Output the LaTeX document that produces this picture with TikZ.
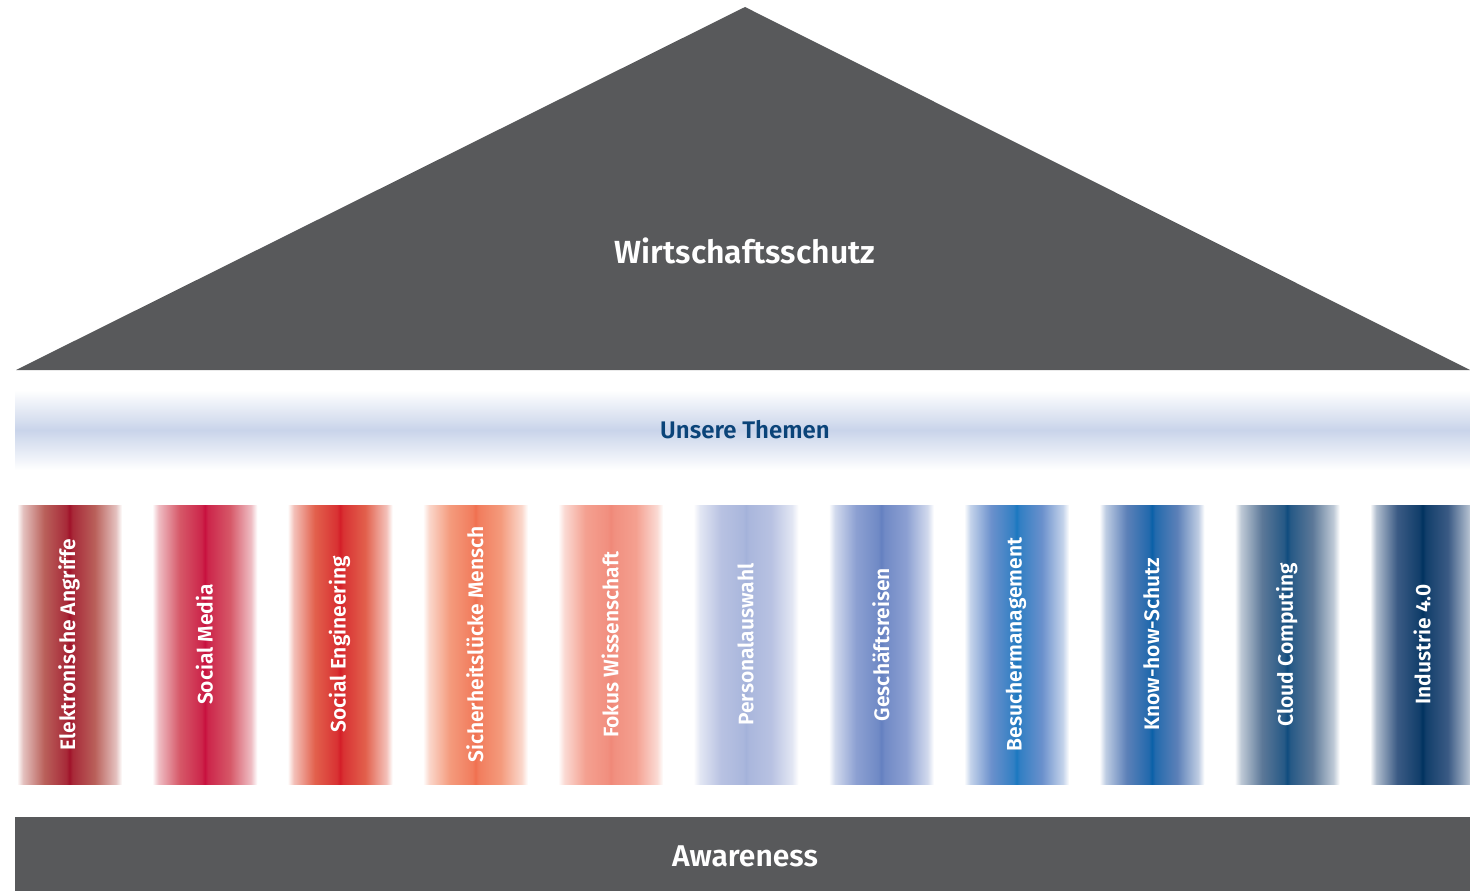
\documentclass[tikz,border=0pt]{standalone}
\usepackage{fontspec}
\setmainfont{Fira Sans}[BoldFont={Fira Sans SemiBold}]
\definecolor{roofgray}{HTML}{58595B}
\definecolor{themeblue}{HTML}{0B4479}
\definecolor{bandblue}{HTML}{C9D4EA}
\definecolor{pc}{HTML}{000000}
\definecolor{pm}{HTML}{808080}
% pillar shading: white edges, mid colour, dark centre line
\pgfdeclarehorizontalshading[pc,pm]{pillarshade}{100bp}{color(0bp)=(white); color(25bp)=(white); color(28bp)=(pm!40); color(38bp)=(pm); color(48.5bp)=(pc!70!pm); color(50bp)=(pc); color(51.5bp)=(pc!70!pm); color(62bp)=(pm); color(72bp)=(pm!40); color(75bp)=(white); color(100bp)=(white)}
\tikzset{
  housepart/.style={fill=roofgray},
  pillartext/.style={text=white, rotate=90, font=\bfseries\fontsize{21}{21}\selectfont},
}
\begin{document}
\begin{tikzpicture}[x=1pt, y=-1pt]
                \useasboundingbox (0,0) rectangle (1470,891);
                % roof
                \fill[housepart] (16,370)--(745,7)--(1470,370)--cycle;
                \node[text=white, font=\bfseries\fontsize{32}{32}\selectfont] (roof) at (745,251) {Wirtschaftsschutz};
                % band
                \shade[top color=white, bottom color=white, middle color=bandblue] (15,390) rectangle (1470,470);
                \node[text=themeblue, font=\bfseries\fontsize{24}{24}\selectfont] (themen) at (745,430) {Unsere Themen};
                % pillars
                \foreach \i/\pcc/\pmc/\txt in {1/A0122A/B9605A/Elektronische Angriffe, 2/C8103E/D65868/Social Media, 3/D41E28/E2604C/Social Engineering, 4/F07050/F49A7C/Sicherheitslücke Mensch, 5/F08878/F4A090/Fokus Wissenschaft, 6/A4B2DA/B8C2E2/Personalauswahl, 7/6480C0/8CA0D2/Geschäftsreisen, 8/1A78C0/6A90CC/Besuchermanagement, 9/0A60A8/5C80B8/Know-how-Schutz, 10/0F4C7E/5C7898/Cloud Computing, 11/00325F/3A5A84/Industrie 4.0}{
                    \definecolor{pc}{HTML}{\pcc}
                    \definecolor{pm}{HTML}{\pmc}
                    \pgfmathsetmacro\xl{17+135.3*(\i-1)}
                    \shade[shading=pillarshade] (\xl,505) rectangle ++(105,279);
                    \node[pillartext] (p\i) at (\xl+52,644.5) {\txt};
                }
                % base
                \fill[housepart] (15,817) rectangle (1470,891);
                \node[text=white, font=\bfseries\fontsize{30}{30}\selectfont] (aware) at (745,856) {Awareness};
            \end{tikzpicture}
\end{document}
